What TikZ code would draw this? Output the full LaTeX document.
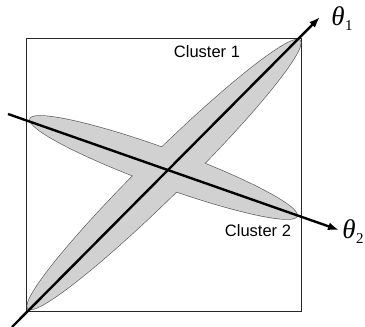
\documentclass[tikz,border=0pt]{standalone}
\usepackage{fontspec}
\setsansfont{Liberation Sans}
\newfontfamily\thfont{Liberation Serif}
\usetikzlibrary{arrows.meta}
\newcommand{\thlab}[1]{{\thfont\itshape\fontsize{27}{27}\selectfont θ}\kern0.5pt\raisebox{-5pt}{\thfont\fontsize{15}{15}\selectfont #1}}
\begin{document}
\begin{tikzpicture}[x=1pt,y=1pt,
  cluster/.style={fill=gray!36},
  clusteredge/.style={draw=gray!70!black,line width=1.3pt},
  axis/.style={line width=2.4pt,-{Latex[length=11pt,width=8pt]}},
  frame/.style={draw=black!85,line width=1pt},
  lbl/.style={font=\sffamily\fontsize{16.5}{16.5}\selectfont,inner sep=0pt},
  thlbl/.style={inner sep=0pt}]
\useasboundingbox (0,0) rectangle (365,327);
% frame
\draw[frame] (26,15.5) rectangle (301.5,288);
% clusters: outlines first, fills on top so that only the outer rims show
\draw[clusteredge,rotate around={44.6:(164,152.5)}] (164,152.5) ellipse [x radius=191,y radius=21];
\draw[clusteredge,rotate around={-20:(163.5,159.5)}] (163.5,159.5) ellipse [x radius=142,y radius=18.5];
\fill[cluster,rotate around={44.6:(164,152.5)}] (164,152.5) ellipse [x radius=191,y radius=21];
\fill[cluster,rotate around={-20:(163.5,159.5)}] (163.5,159.5) ellipse [x radius=142,y radius=18.5];
% axes
\coordinate (a1s) at (12,0);
\coordinate (a1e) at (320,310);
\coordinate (a2s) at (8,213);
\coordinate (a2e) at (339,97);
\draw[axis] (a1s) -- (a1e);
\draw[axis] (a2s) -- (a2e);
% labels
\node[thlbl] (t1) at (342,308) {\thlab{1}};
\node[thlbl] (t2) at (353,95) {\thlab{2}};
\node[lbl] (c1) at (207,275) {Cluster 1};
\node[lbl] (c2) at (258,96) {Cluster 2};
\end{tikzpicture}
\end{document}
